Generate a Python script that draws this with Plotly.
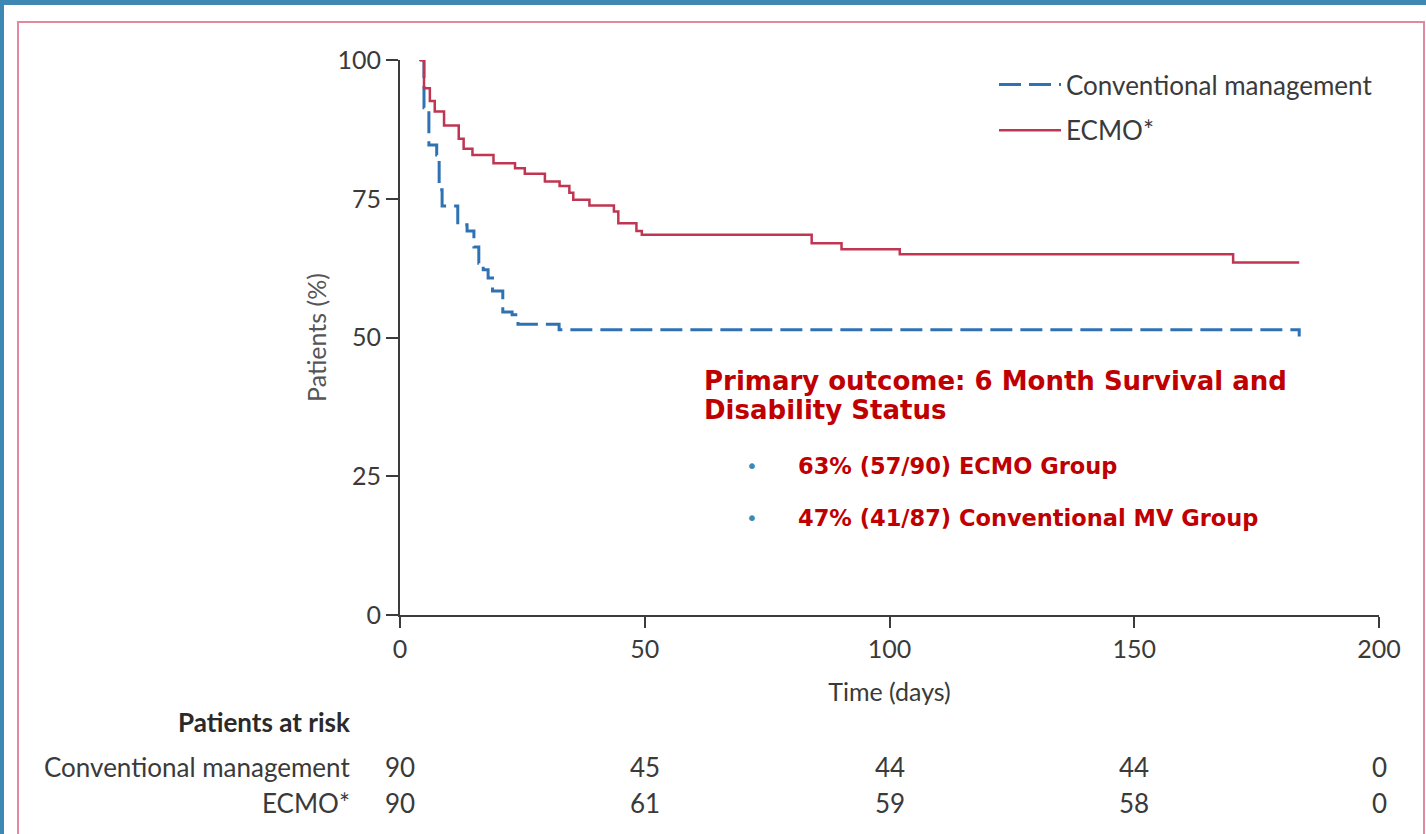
import plotly.graph_objects as go

# ---- data ----
ecmo_days = [3.9, 4.9, 6.1, 7.1, 9.0, 12.0, 13.0, 14.8, 19.1, 23.5, 25.5, 29.6, 32.6,
             34.6, 35.4, 38.7, 43.7, 44.6, 48.3, 49.4, 84.1, 90.2, 102.1, 170.2, 183.7]
ecmo_pct = [100, 94.9, 92.6, 90.7, 88.2, 85.8, 84.0, 82.9, 81.4, 80.5, 79.5, 78.1, 77.3,
            76.1, 74.8, 73.8, 72.7, 70.6, 69.2, 68.5, 67.0, 65.9, 65.0, 63.5, 63.5]

conv_days = [4.1, 4.9, 5.9, 7.5, 8.0, 8.6, 11.8, 13.7, 15.1, 16.1, 17.0, 18.0, 18.9,
             21.0, 22.9, 24.1, 32.5, 183.7]
conv_pct = [100, 91.4, 84.7, 82.9, 76.6, 73.7, 70.3, 69.2, 66.3, 63.4, 62.2, 60.7, 58.4,
            54.6, 54.1, 52.4, 51.4, 50.2]

x_ticks = [0, 50, 100, 150, 200]
y_ticks = [0, 25, 50, 75, 100]

risk_times = [0, 50, 100, 150, 200]
risk_conv = [90, 45, 44, 44, 0]
risk_ecmo = [90, 61, 59, 58, 0]

series_names = ["Conventional management", "ECMO*"]
heading_lines = ["Primary outcome: 6 Month Survival and", "Disability Status"]
bullets = ["63% (57/90) ECMO Group", "47% (41/87) Conventional MV Group"]

# ---- styles ----
BLUE = "#2f72b4"
RED = "#bf3552"
AXIS = "#3c3c3c"
TXT = "#3a3a3a"
DARKRED = "#c00000"
FONT = "Lato"

W, H = 1426, 834
ML, MR, MT, MB = 400, 47, 60, 219
PW, PH = W - ML - MR, H - MT - MB


def px(x):
    return (x - ML) / PW


def py(y):
    return (H - MB - y) / PH


fig = go.Figure()
fig.add_trace(go.Scatter(
    x=conv_days, y=conv_pct, mode="lines", name=series_names[0],
    line=dict(color=BLUE, width=3, shape="hv", dash="22px,8px"),
    legendgroup="a", hoverinfo="skip"))
fig.add_trace(go.Scatter(
    x=ecmo_days, y=ecmo_pct, mode="lines", name=series_names[1],
    line=dict(color=RED, width=2.5, shape="hv"),
    legendgroup="b", hoverinfo="skip"))

annotations = []
for line, yy in zip(heading_lines, [381, 410]):
    annotations.append(dict(
        x=px(702), y=py(yy), xref="paper", yref="paper", xanchor="left", yanchor="middle",
        align="left", showarrow=False, text="<b>" + line + "</b>",
        font=dict(family="DejaVu Sans", size=26, color=DARKRED)))
for t, yy in zip(bullets, [466, 518]):
    annotations.append(dict(
        x=px(752), y=py(yy), xref="paper", yref="paper", xanchor="center", yanchor="middle",
        showarrow=False, text="•", font=dict(family="DejaVu Sans", size=20, color="#3f88b4")))
    annotations.append(dict(
        x=px(796), y=py(yy), xref="paper", yref="paper", xanchor="left", yanchor="middle",
        showarrow=False, text="<b>" + t + "</b>",
        font=dict(family="DejaVu Sans", size=22.5, color=DARKRED)))

annotations.append(dict(
    x=px(352), y=py(722), xref="paper", yref="paper", xanchor="right", yanchor="middle",
    showarrow=False, text="<b>Patients at risk</b>", font=dict(family=FONT, size=26, color="#2a2a2a")))
for name, vals, yy in zip(series_names, [risk_conv, risk_ecmo], [767, 803]):
    annotations.append(dict(
        x=px(352), y=py(yy), xref="paper", yref="paper", xanchor="right", yanchor="middle",
        showarrow=False, text=name, font=dict(family=FONT, size=26, color=TXT)))
    for t, v in zip(risk_times, vals):
        annotations.append(dict(
            x=t, y=py(yy), xref="x", yref="paper", xanchor="center", yanchor="middle",
            showarrow=False, text=str(v), font=dict(family=FONT, size=26, color=TXT)))

shapes = [
    dict(type="rect", xref="paper", yref="paper", x0=px(4), x1=px(1440), y0=py(850), y1=py(5),
         fillcolor="white", line=dict(width=0), layer="below"),
    dict(type="rect", xref="paper", yref="paper", x0=px(18), x1=px(1424), y0=py(850), y1=py(22),
         fillcolor="rgba(0,0,0,0)", line=dict(color="#e3899f", width=2), layer="below"),
]

axis_common = dict(
    showline=True, linecolor=AXIS, linewidth=2, ticks="outside", tickcolor=AXIS,
    tickwidth=2, showgrid=False, zeroline=False,
    tickfont=dict(family=FONT, size=25, color=TXT),
)

fig.update_layout(
    width=W, height=H,
    margin=dict(l=ML, r=MR, t=MT, b=MB),
    paper_bgcolor="#3f88b4", plot_bgcolor="white",
    xaxis=dict(range=[0, 200], tickvals=x_ticks, ticklen=11,
               title=dict(text="Time (days)", standoff=21,
                          font=dict(family=FONT, size=25, color=TXT)),
               **axis_common),
    yaxis=dict(range=[0, 100], tickvals=y_ticks, ticklen=12,
               title=dict(text="Patients (%)", standoff=4,
                          font=dict(family=FONT, size=25, color="#555555")),
               **axis_common),
    legend=dict(x=px(994), y=py(61), xanchor="left", yanchor="top",
                bgcolor="rgba(0,0,0,0)", itemwidth=62, traceorder="grouped",
                tracegroupgap=9, font=dict(family=FONT, size=26, color=TXT)),
    annotations=annotations,
    shapes=shapes,
    showlegend=True,
)

fig.write_html("out.html")
